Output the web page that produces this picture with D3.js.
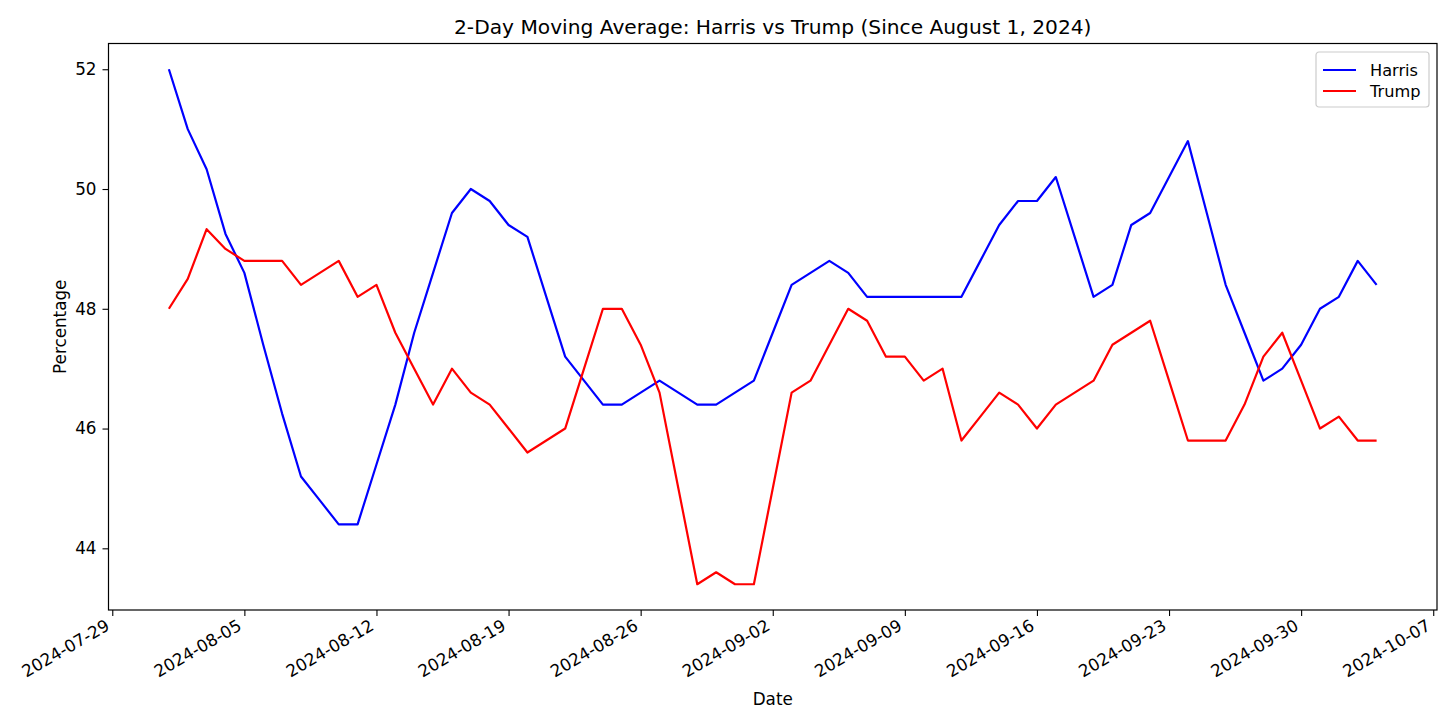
<!DOCTYPE html>
<html>
<head>
<meta charset="utf-8">
<script src="https://cdn.jsdelivr.net/npm/d3@7"></script>
<style>
  body { margin: 0; background: #fff; }
  text { font-family: "DejaVu Sans", sans-serif; fill: #000; }
</style>
</head>
<body>
<div id="graph"></div>
<script>
const w = 1456;
const h = 728;
const margin = {top: 43.5, right: 19, bottom: 118, left: 108.5};

// daily dates, 2024-08-01 .. 2024-10-04
const startDate = new Date(2024, 7, 1);
const endDate = new Date(2024, 9, 4);
const dates = d3.timeDay.range(startDate, d3.timeDay.offset(endDate, 1));

const harris = [
  52.0, 51.0, 50.33, 49.25, 48.6, 47.4, 46.25, 45.2, 44.8, 44.4, 44.4, 45.4, 46.4, 47.6, 48.6, 49.6,
  50.0, 49.8, 49.4, 49.2, 48.2, 47.2, 46.8, 46.4, 46.4, 46.6, 46.8, 46.6, 46.4, 46.4, 46.6,
  46.8, 47.6, 48.4, 48.6, 48.8, 48.6, 48.2, 48.2, 48.2, 48.2, 48.2, 48.2, 48.8, 49.4, 49.8,
  49.8, 50.2, 49.2, 48.2, 48.4, 49.4, 49.6, 50.2, 50.8, 49.6, 48.4, 47.6, 46.8, 47.0, 47.4,
  48.0, 48.2, 48.8, 48.4
];

const trump = [
  48.0, 48.5, 49.33, 49.0, 48.8, 48.8, 48.8, 48.4, 48.6, 48.8, 48.2, 48.4, 47.6, 47.0, 46.4, 47.0,
  46.6, 46.4, 46.0, 45.6, 45.8, 46.0, 47.0, 48.0, 48.0, 47.4, 46.6, 45.0, 43.4, 43.6, 43.4,
  43.4, 45.0, 46.6, 46.8, 47.4, 48.0, 47.8, 47.2, 47.2, 46.8, 47.0, 45.8, 46.2, 46.6, 46.4,
  46.0, 46.4, 46.6, 46.8, 47.4, 47.6, 47.8, 46.8, 45.8, 45.8, 45.8, 46.4, 47.2, 47.6, 46.8,
  46.0, 46.2, 45.8, 45.8
];

const seriesNames = ["Harris", "Trump"];
const seriesColors = ["#0000ff", "#ff0000"];
const yTicks = [44, 46, 48, 50, 52];
const xTicks = d3.timeMonday.range(new Date(2024, 6, 29), new Date(2024, 9, 8));

const svg = d3.select('#graph')
  .append('svg')
  .attr('width', w)
  .attr('height', h);

// matplotlib-style 5% margins around the data
const pad = 0.05 * (endDate - startDate);
const xScale = d3.scaleTime()
  .domain([new Date(+startDate - pad), new Date(+endDate + pad)])
  .range([margin.left, w - margin.right]);

const allVals = harris.concat(trump);
const yMin = d3.min(allVals), yMax = d3.max(allVals);
const yPad = 0.05 * (yMax - yMin);
const yScale = d3.scaleLinear()
  .domain([yMin - yPad, yMax + yPad])
  .range([h - margin.bottom, margin.top]);

const formatDate = d3.timeFormat("%Y-%m-%d");

// x axis
const xAxis = svg.append("g")
  .attr("transform", "translate(0," + (h - margin.bottom) + ")")
  .call(d3.axisBottom(xScale).tickValues(xTicks).tickFormat(formatDate).tickSize(6).tickPadding(6));
xAxis.select(".domain").remove();
xAxis.selectAll("line").attr("stroke", "#000").attr("stroke-width", 1.1);
xAxis.selectAll("text")
  .attr("y", 0)
  .attr("dy", 0)
  .attr("text-anchor", "end")
  .attr("transform", "translate(-2,19) rotate(-30)")
  .style("font-size", "16.8px");

// y axis
const yAxis = svg.append("g")
  .attr("transform", "translate(" + margin.left + ",0)")
  .call(d3.axisLeft(yScale).tickValues(yTicks).tickSize(6).tickPadding(6));
yAxis.select(".domain").remove();
yAxis.selectAll("line").attr("stroke", "#000").attr("stroke-width", 1.1);
yAxis.selectAll("text").style("font-size", "16.8px");

// frame
svg.append("rect")
  .attr("x", margin.left)
  .attr("y", margin.top)
  .attr("width", w - margin.left - margin.right)
  .attr("height", h - margin.top - margin.bottom)
  .attr("fill", "none")
  .attr("stroke", "#000")
  .attr("stroke-width", 1.2);

// lines
const line = d3.line()
  .x((d, i) => xScale(dates[i]))
  .y(d => yScale(d));

[harris, trump].forEach((vals, k) => {
  svg.append("path")
    .datum(vals)
    .attr("d", line)
    .attr("fill", "none")
    .attr("stroke", seriesColors[k])
    .attr("stroke-width", 2.2)
    .attr("stroke-linejoin", "round");
});

// title
svg.append("text")
  .attr("x", (margin.left + w - margin.right) / 2)
  .attr("y", 34)
  .attr("text-anchor", "middle")
  .style("font-size", "20.2px")
  .text("2-Day Moving Average: Harris vs Trump (Since August 1, 2024)");

// axis labels
svg.append("text")
  .attr("x", (margin.left + w - margin.right) / 2)
  .attr("y", 705)
  .attr("text-anchor", "middle")
  .style("font-size", "16.8px")
  .text("Date");

svg.append("text")
  .attr("transform", "translate(66," + ((margin.top + h - margin.bottom) / 2) + ") rotate(-90)")
  .attr("text-anchor", "middle")
  .style("font-size", "16.8px")
  .text("Percentage");

// legend
const legendBox = svg.append("g").attr("transform", "translate(1316,52)");
legendBox.append("rect")
  .attr("width", 113)
  .attr("height", 55)
  .attr("rx", 3)
  .attr("fill", "#fff")
  .attr("fill-opacity", 0.8)
  .attr("stroke", "#cccccc")
  .attr("stroke-width", 1.2);

const legend = legendBox.selectAll(".legend")
  .data(seriesNames)
  .enter()
  .append("g")
  .attr("class", "legend")
  .attr("transform", (d, i) => "translate(0," + (18 + i * 21) + ")");

legend.append("line")
  .attr("x1", 7)
  .attr("x2", 40)
  .attr("stroke", (d, i) => seriesColors[i])
  .attr("stroke-width", 2.2);

legend.append("text")
  .attr("x", 54)
  .attr("dy", "0.36em")
  .style("font-size", "16.2px")
  .text(d => d);
</script>
</body>
</html>
